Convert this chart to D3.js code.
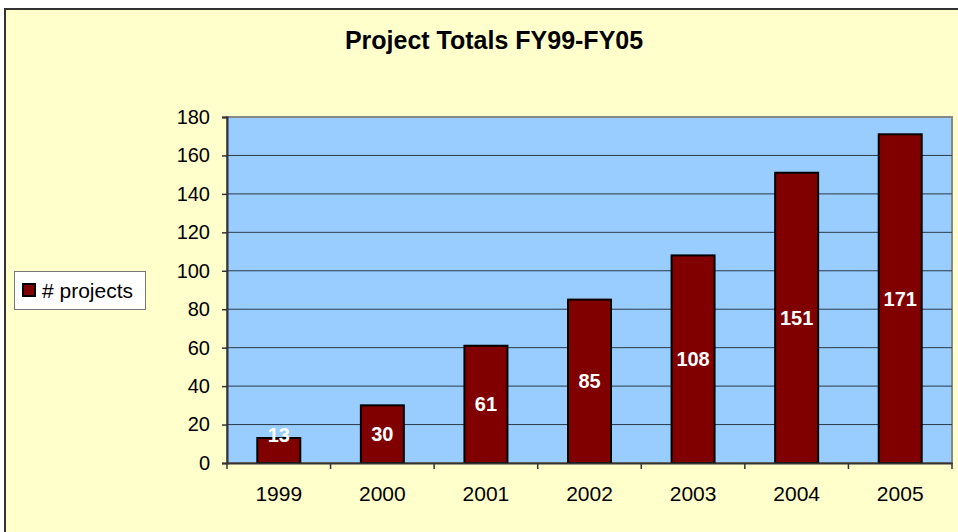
<!DOCTYPE html>
<html>
<head>
<meta charset="utf-8">
<script src="https://cdn.jsdelivr.net/npm/d3@7"></script>
<style>
  body { margin: 0; background: #fff; }
  text { font-family: "Liberation Sans", Arial, sans-serif; }
</style>
</head>
<body>
<div class="chart-area"></div>
<script>
// data
let years = ["1999", "2000", "2001", "2002", "2003", "2004", "2005"];
let projects = [13, 30, 61, 85, 108, 151, 171];
let yTicks = [0, 20, 40, 60, 80, 100, 120, 140, 160, 180];
let seriesName = "# projects";
let title = "Project Totals FY99-FY05";

let W = 958, H = 532;
let plot = {left: 227, top: 117, right: 952, bottom: 463};

let svg = d3.select(".chart-area").append("svg")
    .attr("width", W)
    .attr("height", H)
    .style("display", "block");

// chart background
svg.append("rect")
    .attr("x", 5).attr("y", 9)
    .attr("width", W + 10).attr("height", H + 10)
    .attr("fill", "#FFFFCC")
    .attr("stroke", "#333")
    .attr("stroke-width", 2);

svg.append("text")
    .attr("x", 494).attr("y", 49)
    .attr("text-anchor", "middle")
    .attr("font-size", 25)
    .attr("font-weight", "bold")
    .attr("fill", "#000")
    .text(title);

let x = d3.scaleBand()
    .domain(years)
    .range([plot.left, plot.right])
    .paddingInner(0.585)
    .paddingOuter(0.2925);

let y = d3.scaleLinear()
    .domain([0, 180])
    .range([plot.bottom, plot.top]);

// plot area
svg.append("rect")
    .attr("x", plot.left).attr("y", plot.top)
    .attr("width", plot.right - plot.left)
    .attr("height", plot.bottom - plot.top)
    .attr("fill", "#99CCFF")
    .attr("stroke", "#888")
    .attr("stroke-width", 2);

// gridlines
svg.selectAll(".grid").data(yTicks.filter(d => d > 0 && d < 180)).enter().append("line")
    .attr("x1", plot.left).attr("x2", plot.right)
    .attr("y1", d => y(d)).attr("y2", d => y(d))
    .attr("stroke", "#2a3a4a")
    .attr("stroke-width", 1);

// bars
svg.selectAll(".bar").data(projects).enter().append("rect")
    .attr("x", (d, i) => x(years[i]))
    .attr("y", d => y(d))
    .attr("width", x.bandwidth())
    .attr("height", d => y(0) - y(d))
    .attr("fill", "#800000")
    .attr("stroke", "#000")
    .attr("stroke-width", 2);

// bar labels
svg.selectAll(".lbl").data(projects).enter().append("text")
    .attr("x", (d, i) => x(years[i]) + x.bandwidth() / 2)
    .attr("y", d => Math.min((y(d) + y(0)) / 2, y(0) - 28) + 7)
    .attr("text-anchor", "middle")
    .attr("font-size", 20)
    .attr("font-weight", "bold")
    .attr("fill", "#fff")
    .text(d => d);

// y axis
let yAxis = svg.append("g")
    .attr("transform", "translate(" + plot.left + ",0)")
    .call(d3.axisLeft(y).tickValues(yTicks).tickSize(5).tickPadding(12));
yAxis.select(".domain").attr("stroke", "#333").attr("stroke-width", 2);
yAxis.selectAll(".tick line").attr("stroke", "#333").attr("stroke-width", 1.5);
yAxis.selectAll(".tick text")
    .attr("font-size", 20)
    .attr("fill", "#000")
    .attr("font-family", "Liberation Sans, Arial, sans-serif");

// x axis
let xAxis = svg.append("g")
    .attr("transform", "translate(0," + plot.bottom + ")")
    .call(d3.axisBottom(x).tickSize(0).tickPadding(23));
xAxis.select(".domain").attr("stroke", "#333").attr("stroke-width", 2);
xAxis.selectAll(".tick text")
    .attr("font-size", 21)
    .attr("fill", "#000")
    .attr("font-family", "Liberation Sans, Arial, sans-serif");

// x tick marks on category boundaries
let step = x.step();
let bounds = d3.range(years.length + 1).map(i => plot.left + i * step);
svg.selectAll(".xtick").data(bounds).enter().append("line")
    .attr("x1", d => d).attr("x2", d => d)
    .attr("y1", plot.bottom).attr("y2", plot.bottom + 6)
    .attr("stroke", "#333")
    .attr("stroke-width", 1.5);

// legend
let legend = svg.append("g");
legend.append("rect")
    .attr("x", 14.5).attr("y", 271.5)
    .attr("width", 131).attr("height", 38)
    .attr("fill", "#fff")
    .attr("stroke", "#777")
    .attr("stroke-width", 1);
legend.append("rect")
    .attr("x", 23).attr("y", 284)
    .attr("width", 12).attr("height", 12)
    .attr("fill", "#800000")
    .attr("stroke", "#000")
    .attr("stroke-width", 2);
legend.append("text")
    .attr("x", 42).attr("y", 298)
    .attr("font-size", 21)
    .attr("fill", "#000")
    .text(seriesName);
</script>
</body>
</html>
